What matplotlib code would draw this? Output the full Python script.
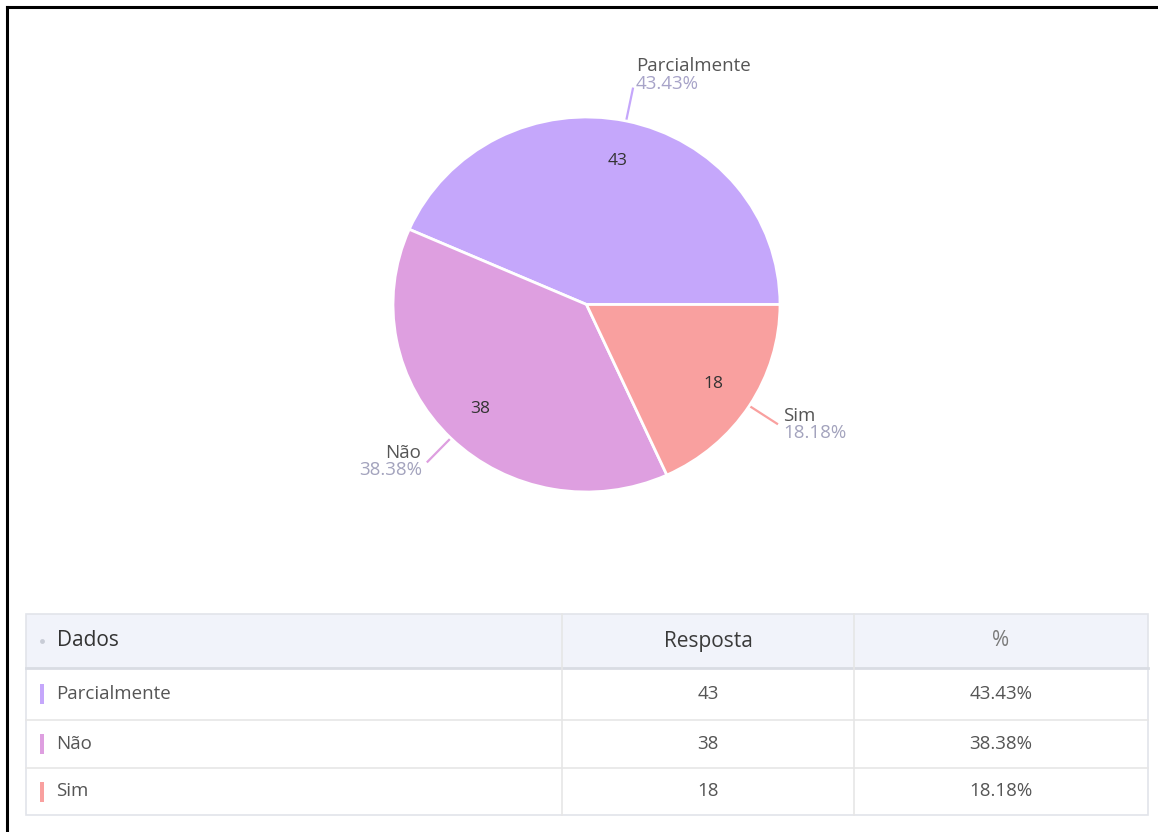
import matplotlib
matplotlib.use("Agg")
import numpy as np
import matplotlib.pyplot as plt
from matplotlib.patches import Rectangle
from matplotlib.lines import Line2D

# ---------------- data ----------------
categories = ["Parcialmente", "Não", "Sim"]
counts = [43, 38, 18]
percent_labels = ["43.43%", "38.38%", "18.18%"]
table_headers = ["Dados", "Resposta", "%"]

# ---------------- style ----------------
colors = ["#C5A7FB", "#DE9FE0", "#F9A09F"]
FONT = ["Open Sans", "DejaVu Sans"]
plt.rcParams["font.family"] = FONT

W, H = 1158, 832
fig = plt.figure(figsize=(W / 100, H / 100), dpi=100)
fig.patch.set_facecolor("white")

bg = fig.add_axes([0, 0, 1, 1])
bg.set_xlim(0, W)
bg.set_ylim(H, 0)
bg.axis("off")

# screenshot border (top and left)
bg.add_line(Line2D([7, W], [6.5, 6.5], color="black", lw=2.2))
bg.add_line(Line2D([7, 7], [6.5, H], color="black", lw=2.2))

# ---------------- pie ----------------
cx, cy, rx, ry = 586.5, 304.5, 193.5, 187.5


def px_box(x0, y0, x1, y1):
    return [x0 / W, 1 - y1 / H, (x1 - x0) / W, (y1 - y0) / H]


pax = fig.add_axes(px_box(cx - rx, cy - ry, cx + rx, cy + ry))
wedges, _ = pax.pie(
    counts,
    colors=colors,
    startangle=0,
    counterclock=True,
    radius=1,
    wedgeprops=dict(edgecolor="white", linewidth=2),
)
pax.set_aspect("auto")
pax.set_xlim(-1, 1)
pax.set_ylim(-1, 1)
pax.axis("off")

for w, c, cat, pct, col in zip(wedges, counts, categories, percent_labels, colors):
    mid = np.deg2rad((w.theta1 + w.theta2) / 2)
    ca, sa = np.cos(mid), np.sin(mid)
    # inner value label
    pax.text(0.78 * ca, 0.78 * sa, str(c), ha="center", va="center",
             fontsize=12.5, color="#333333")
    # leader line (in pixel coords)
    x0, y0 = cx + rx * ca, cy - ry * sa
    x1, y1 = x0 + 33 * ca, y0 - 33 * sa
    bg.add_line(Line2D([x0, x1], [y0, y1], color=col, lw=1.6))
    if sa > 0.9:  # label above
        bg.text(x1 + 3, y1 - 23, cat, ha="left", va="center", fontsize=13.5, color="#555555")
        bg.text(x1 + 3, y1 - 5, pct, ha="left", va="center", fontsize=13.5, color="#A7A3C8")
    elif ca >= 0:
        bg.text(x1 + 6, y1 - 8, cat, ha="left", va="center", fontsize=13.5, color="#555555")
        bg.text(x1 + 6, y1 + 9, pct, ha="left", va="center", fontsize=13.5, color="#A3A3BD")
    else:
        bg.text(x1 - 7, y1 - 9, cat, ha="right", va="center", fontsize=13.5, color="#555555")
        bg.text(x1 - 5, y1 + 8, pct, ha="right", va="center", fontsize=13.5, color="#A3A3BD")

# ---------------- table ----------------
tx0, tx1 = 26, 1148
ty0 = 614
header_h = 54
row_edges = [668, 720, 768, 815]
col_edges = [26, 562, 854, 1148]

bg.add_patch(Rectangle((tx0, ty0), tx1 - tx0, header_h, facecolor="#F1F3FA",
                       edgecolor="none"))
bg.add_patch(Rectangle((tx0, ty0), tx1 - tx0, row_edges[-1] - ty0,
                       facecolor="none", edgecolor="#E2E4EA", lw=1.2))
# header shadow line
bg.add_line(Line2D([tx0, tx1], [row_edges[0], row_edges[0]], color="#D9DCE3", lw=2))
for yy in row_edges[1:-1]:
    bg.add_line(Line2D([tx0, tx1], [yy, yy], color="#E6E6E6", lw=1.2))
for xx in col_edges[1:-1]:
    bg.add_line(Line2D([xx, xx], [ty0, row_edges[-1]], color="#E6E6E6", lw=1.2))

hy = ty0 + header_h / 2
header_colors = ["#333333", "#3A3A3A", "#7A7A7A"]
bg.plot([42], [hy], marker="o", ms=3.5, color="#C8CCD6", mec="none")
bg.text(57, hy, table_headers[0], ha="left", va="center", fontsize=15,
        color=header_colors[0])
for j in (1, 2):
    bg.text((col_edges[j] + col_edges[j + 1]) / 2, hy, table_headers[j],
            ha="center", va="center", fontsize=15, color=header_colors[j])

for i, (cat, c, pct, col) in enumerate(zip(categories, counts, percent_labels, colors)):
    top, bot = row_edges[i], row_edges[i + 1]
    ymid = (top + bot) / 2
    bg.add_patch(Rectangle((40, ymid - 10), 4, 20, facecolor=col, edgecolor="none"))
    bg.text(56, ymid, cat, ha="left", va="center", fontsize=13.5, color="#555555")
    bg.text((col_edges[1] + col_edges[2]) / 2, ymid, str(c), ha="center",
            va="center", fontsize=13.5, color="#555555")
    bg.text((col_edges[2] + col_edges[3]) / 2, ymid, pct, ha="center",
            va="center", fontsize=13.5, color="#555555")

fig.savefig("out.png", dpi=100, facecolor="white")
